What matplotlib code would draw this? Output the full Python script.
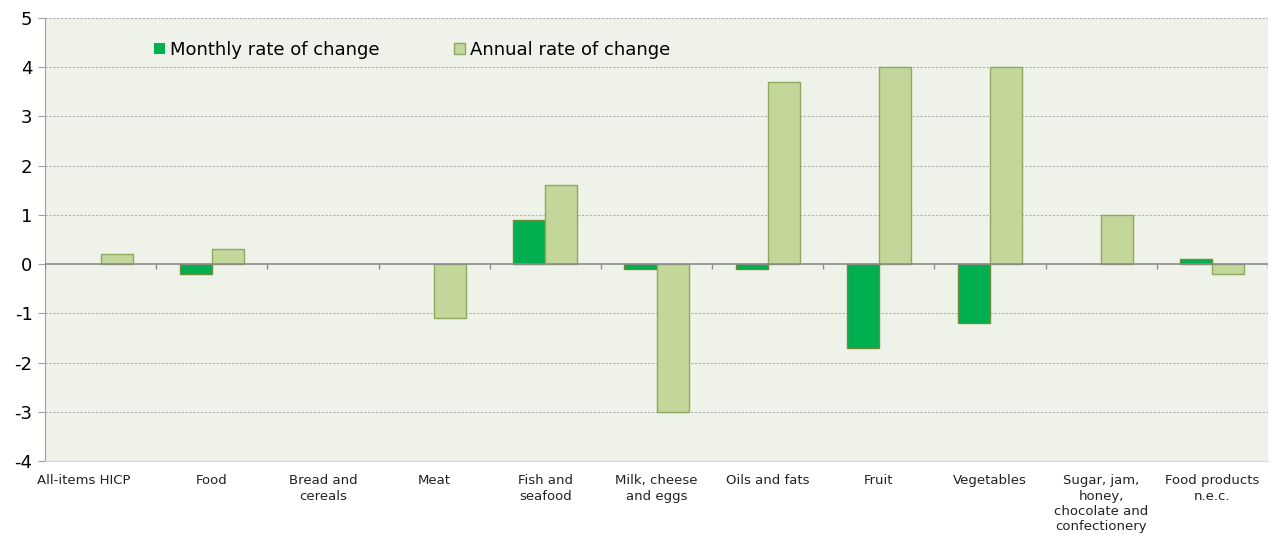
import numpy as np
import matplotlib
matplotlib.use('Agg')
import matplotlib.pyplot as plt

categories = ['All-items HICP', 'Food', 'Bread and\ncereals', 'Meat', 'Fish and\nseafood',
              'Milk, cheese\nand eggs', 'Oils and fats', 'Fruit', 'Vegetables',
              'Sugar, jam,\nhoney,\nchocolate and\nconfectionery', 'Food products\nn.e.c.']
monthly = [0.0, -0.2, 0.0, 0.0, 0.9, -0.1, -0.1, -1.7, -1.2, 0.0, 0.1]
annual = [0.2, 0.3, 0.0, -1.1, 1.6, -3.0, 3.7, 4.0, 4.0, 1.0, -0.2]
yticks = list(range(-4, 6))

plt.rcParams.update({'font.family': 'DejaVu Sans', 'axes.unicode_minus': False})
fig = plt.figure(figsize=(12.76, 5.38), dpi=100)
ax = fig.add_axes([0.0353, 0.1431, 0.9584, 0.8234])
ax.set_facecolor('#EEF2E8')

x = np.arange(len(categories))
w = 0.288
m_lw = [1.0 if v != 0 else 0 for v in monthly]
a_lw = [1.0 if v != 0 else 0 for v in annual]
ax.bar(x - w / 2, monthly, w, color='#00B050', edgecolor='#6B8E3A', lw=m_lw,
       label='Monthly rate of change', zorder=3)
ax.bar(x + w / 2, annual, w, color='#C4D79B', edgecolor='#8FA861', lw=a_lw,
       label='Annual rate of change', zorder=3)

for y in yticks:
    if y != 0:
        ax.axhline(y, color='#B0B0B0', lw=0.8, ls=(0, (2, 1.5)), zorder=1)
ax.axhline(0, color='#8C8C8C', lw=1.2, zorder=4)
ax.vlines(np.arange(-0.5, len(categories)), 0, -0.1, color='#8C8C8C', lw=1.0, zorder=4)

ax.set_xlim(-0.5, len(categories) - 0.5)
ax.set_ylim(-4, 5)
ax.set_yticks(yticks)
ax.set_xticks([])
ax.tick_params(axis='y', labelsize=13, length=5, color='#A0A0A0', pad=4)
for s in ['top', 'right']:
    ax.spines[s].set_visible(False)
ax.spines['left'].set_color('#A0A0A0')
ax.spines['bottom'].set_color('#D8D8D8')

for i, c in enumerate(categories):
    xi = i - 0.15 if i == 0 else i
    ax.text(xi, -0.03, c, transform=ax.get_xaxis_transform(), ha='center', va='top',
            fontsize=9.5, color='#222222', linespacing=1.22)

ax.legend(loc='upper left', bbox_to_anchor=(0.076, 0.985), ncol=2, frameon=False,
          fontsize=13, handlelength=0.6, handleheight=0.6, handletextpad=0.3,
          columnspacing=4.1)

fig.savefig('out.png', dpi=100)
